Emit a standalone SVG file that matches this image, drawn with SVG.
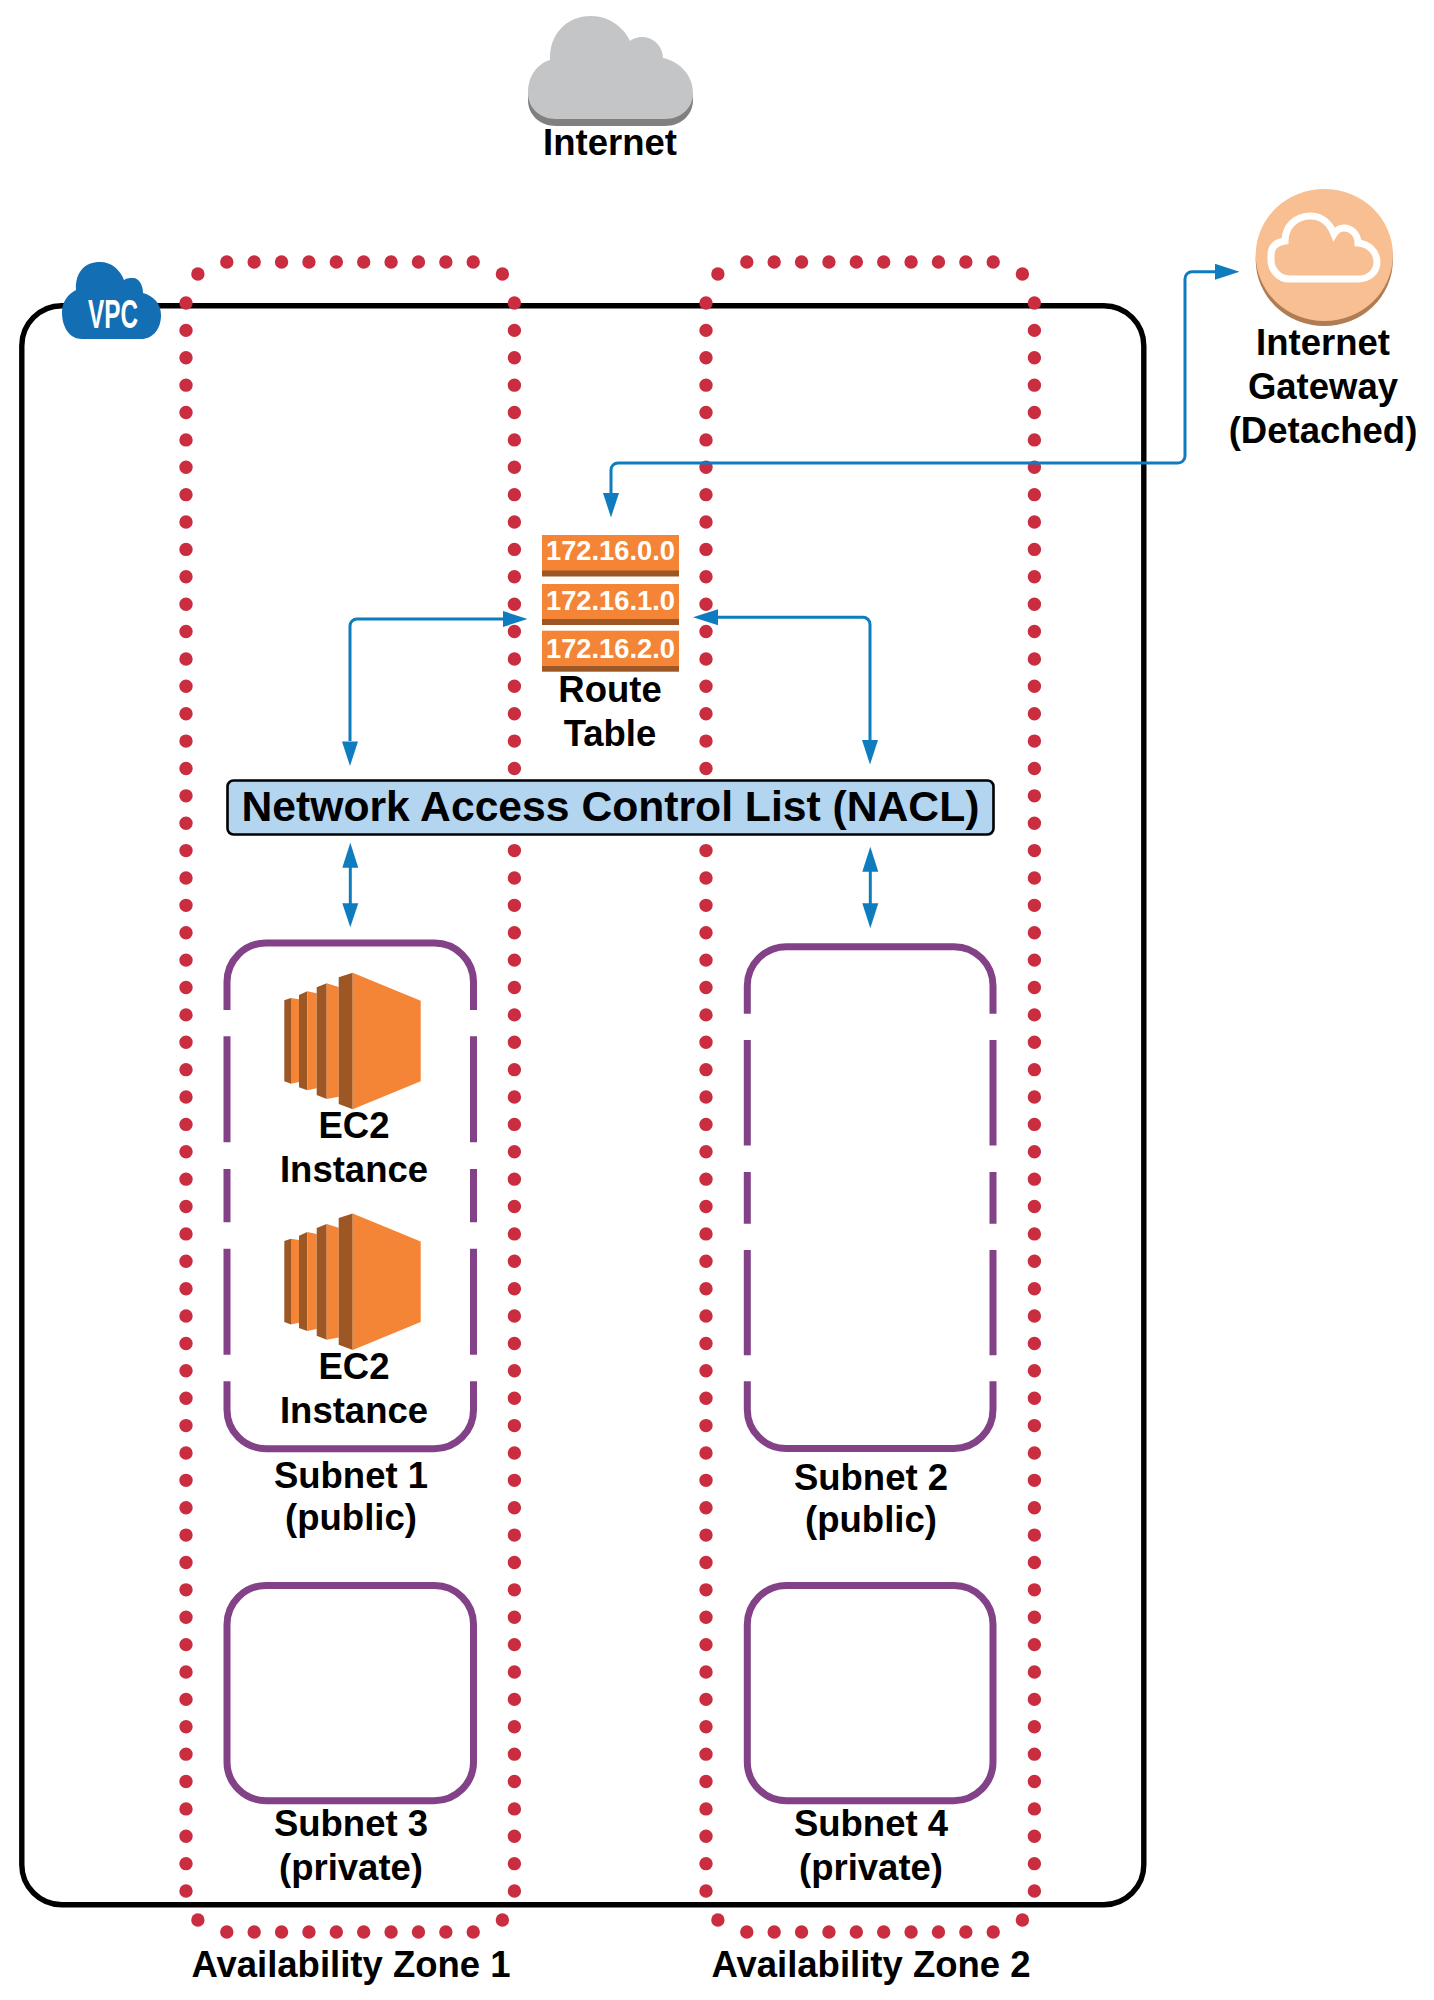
<svg xmlns="http://www.w3.org/2000/svg" xmlns:xlink="http://www.w3.org/1999/xlink" width="1434" height="2000" viewBox="0 0 1434 2000">
<style>
text{font-family:"Liberation Sans",Arial,sans-serif;font-weight:700;fill:#000;text-anchor:middle;font-size:36.5px}
.dots{fill:none;stroke:#C92D3F;stroke-width:13.4;stroke-linecap:round;stroke-dasharray:0 27.38}
.dot{fill:#C92D3F}
.sub{fill:none;stroke:#834187;stroke-width:7}
.conn{fill:none;stroke:#0E7CBE;stroke-width:3}
.head{fill:#0E7CBE}
.o{fill:#F58536}.d{fill:#9D5725}
.ip{fill:#fff;font-size:27.3px}
</style>
<defs>
<g id="az">
<line class="dots" x1="186" y1="303" x2="186" y2="1892"/>
<line class="dots" x1="514.4" y1="303" x2="514.4" y2="1892"/>
<line class="dots" x1="226.8" y1="262" x2="474" y2="262"/>
<line class="dots" x1="226.8" y1="1932" x2="474" y2="1932"/>
<circle class="dot" cx="197.9" cy="274" r="6.7"/>
<circle class="dot" cx="502.4" cy="274" r="6.7"/>
<circle class="dot" cx="197.9" cy="1920" r="6.7"/>
<circle class="dot" cx="502.4" cy="1920" r="6.7"/>
</g>
<g id="ec2icon">
<polygon class="d" points="284.3,1000.3 291,998 291,1083.7 284.3,1081.3"/>
<polygon class="o" points="291,998 299,999.3 299,1082 291,1083.7"/>
<polygon class="d" points="299,995 307.3,991.3 307.3,1090.3 299,1087.3"/>
<polygon class="o" points="307.3,991.3 316.7,993.3 316.7,1088.3 307.3,1090.3"/>
<polygon class="d" points="316.7,987.3 326.7,983.3 326.7,1099 316.7,1095"/>
<polygon class="o" points="326.7,983.3 338.7,987 338.7,1096.7 326.7,1099"/>
<polygon class="d" points="338.7,977.3 352.7,972.7 352.7,1109.3 338.7,1104"/>
<polygon class="o" points="352.7,972.7 420.7,1000.7 420.7,1081.3 352.7,1109.3"/>
</g>
<path id="inetcloud" d="M528 93C528 76 537 64 550 60C549 35 566 16 591 16C610 16 624 28 630 41C634 38 638 37 642 37C654 37 663 47 663 58C681 62 693 76 693 93C693 108 681 119 665 119L556 119C540 119 528 108 528 93Z"/>
</defs>

<g id="vpc">
<rect x="21.8" y="305.7" width="1122" height="1599" rx="40" ry="40" fill="none" stroke="#000" stroke-width="5.4"/>
</g>

<g id="az1"><use href="#az"/><text x="351" y="1976.7">Availability Zone 1</text></g>
<g id="az2"><use href="#az" transform="translate(520 0)"/><text x="871" y="1976.7">Availability Zone 2</text></g>

<g id="vpc-icon">
<path fill="#146EB4" d="M62 312C62 302 68 294 76 290C75 272 85 262 100 262C112 262 120 270 124 280C127 278 130 278 133 278C139 278 143 285 143 293C154 296 161 304 161 315C161 329 153 339 141 339L82 339C70 339 62 328 62 312Z"/>
<text x="113" y="327.5" style="fill:#fff;font-size:41px" textLength="50" lengthAdjust="spacingAndGlyphs">VPC</text>
</g>

<g id="internet">
<use href="#inetcloud" fill="#808080" transform="translate(0 7)"/>
<use href="#inetcloud" fill="#C4C5C6"/>
<text x="610" y="155">Internet</text>
</g>

<g id="igw">
<ellipse cx="1324.3" cy="260" rx="68.6" ry="66" fill="#B07C53"/>
<ellipse cx="1324.3" cy="255" rx="68.6" ry="66" fill="#F8BF93"/>
<path fill="none" stroke="#fff" stroke-width="7" d="M1271 255C1271 246 1277 242 1285 241C1285 226 1296 216 1311 216C1322 216 1330 224 1334 234C1337 229 1340 228 1344 228C1352 228 1358 235 1358 243C1369 244 1377 252 1377 262C1377 272 1369 279 1358 279L1289 279C1279 279 1271 270 1271 260Z"/>
<text x="1323" y="355">Internet</text>
<text x="1323" y="399">Gateway</text>
<text x="1323" y="443">(Detached)</text>
</g>

<g id="route-table">
<rect class="o" x="542" y="535" width="137" height="36"/><rect class="d" x="542" y="570.5" width="137" height="6"/>
<rect class="o" x="542" y="584" width="137" height="35"/><rect class="d" x="542" y="619" width="137" height="6"/>
<rect class="o" x="542" y="630.7" width="137" height="35"/><rect class="d" x="542" y="665.7" width="137" height="6"/>
<text class="ip" x="610.5" y="560">172.16.0.0</text>
<text class="ip" x="610.5" y="610">172.16.1.0</text>
<text class="ip" x="610.5" y="658">172.16.2.0</text>
<text x="610" y="702">Route</text>
<text x="610" y="745.5">Table</text>
</g>

<g id="nacl">
<rect x="227.5" y="780.5" width="766" height="54" rx="6" fill="#B3D5F0" stroke="#000" stroke-width="2.6"/>
<text x="610.5" y="820.5" style="font-size:42.67px">Network Access Control List (NACL)</text>
</g>

<g id="subnet1">
<path class="sub" d="M227 1010V982a39 39 0 0 1 39-39H434.5a39 39 0 0 1 39 39V1010M227 1036.3V1142.3M473.5 1036.3V1142.3M227 1169V1222.3M473.5 1169V1222.3M227 1248.7V1354.7M473.5 1248.7V1354.7M227 1381.3V1409.7a39 39 0 0 0 39 39H434.5a39 39 0 0 0 39-39V1381.3"/>
<text x="351" y="1487.5">Subnet 1</text>
<text x="351" y="1530">(public)</text>
</g>
<g id="ec2-1"><use href="#ec2icon"/><text x="354" y="1138">EC2</text><text x="354" y="1182">Instance</text></g>
<g id="ec2-2"><use href="#ec2icon" transform="translate(0 240.7)"/><text x="354" y="1379">EC2</text><text x="354" y="1423">Instance</text></g>

<g id="subnet2">
<path class="sub" d="M747.3 1013.7V985.7a39 39 0 0 1 39-39H954a39 39 0 0 1 39 39V1013.7M747.3 1040V1145.5M993 1040V1145.5M747.3 1172V1223.7M993 1172V1223.7M747.3 1250V1355.3M993 1250V1355.3M747.3 1381.3V1409.5a39 39 0 0 0 39 39H954a39 39 0 0 0 39-39V1381.3"/>
<text x="871" y="1489.5">Subnet 2</text>
<text x="871" y="1532">(public)</text>
</g>

<g id="subnet3">
<rect class="sub" x="227" y="1585.5" width="246.5" height="215.2" rx="39"/>
<text x="351" y="1836">Subnet 3</text>
<text x="351" y="1879.5">(private)</text>
</g>
<g id="subnet4">
<rect class="sub" x="747.3" y="1585.5" width="245.7" height="215.2" rx="39"/>
<text x="871" y="1836">Subnet 4</text>
<text x="871" y="1879.5">(private)</text>
</g>

<g id="connectors">
<path class="conn" d="M611 493V470a7 7 0 0 1 7-7H1178a7 7 0 0 0 7-7V278.7a7 7 0 0 1 7-7H1216"/>
<polygon class="head" points="611,517.5 603,493 619,493"/>
<polygon class="head" points="1239.5,271.7 1215,263.7 1215,279.7"/>
<path class="conn" d="M350 741V626a7 7 0 0 1 7-7H504"/>
<polygon class="head" points="527.5,619 503,611 503,627"/>
<polygon class="head" points="350,766 342,741.5 358,741.5"/>
<path class="conn" d="M870 740V624.3a7 7 0 0 0-7-7H717"/>
<polygon class="head" points="693,617.3 718,609.3 718,625.3"/>
<polygon class="head" points="870,764.5 862,740 878,740"/>
<path class="conn" d="M350.3 866V904"/>
<polygon class="head" points="350.3,842.7 342.3,867.7 358.3,867.7"/>
<polygon class="head" points="350.3,927.3 342.3,903.3 358.3,903.3"/>
<path class="conn" d="M870.3 870V904"/>
<polygon class="head" points="870.3,846.7 862.3,871.7 878.3,871.7"/>
<polygon class="head" points="870.3,928.3 862.3,903.3 878.3,903.3"/>
</g>
</svg>
